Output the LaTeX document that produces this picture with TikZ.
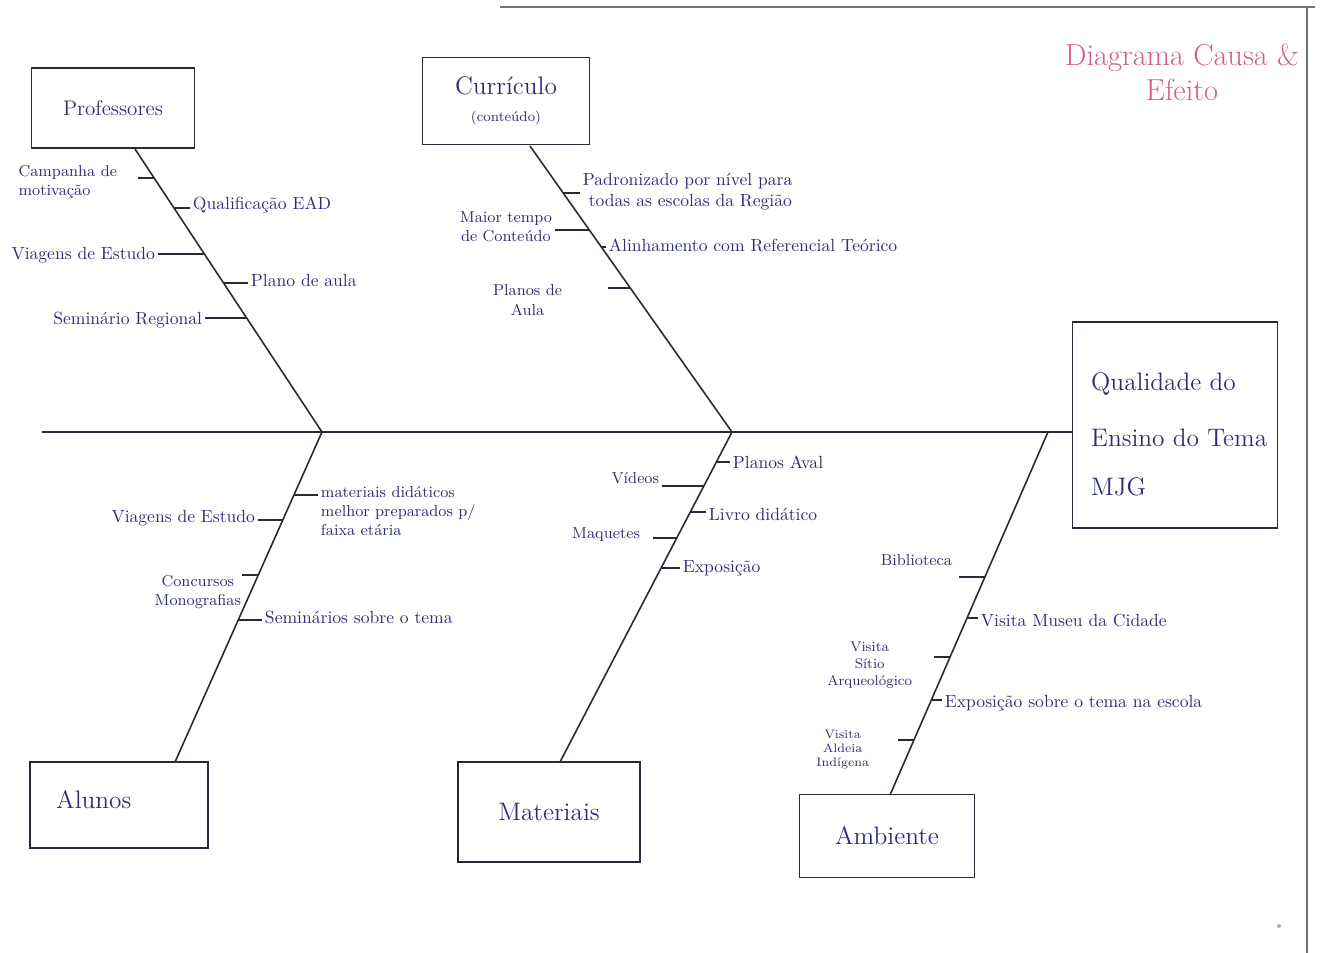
\documentclass[tikz,border=0pt]{standalone}
\usepackage{fontspec}
\usetikzlibrary{calc}
\definecolor{lineink}{rgb}{0.16,0.16,0.22}
\definecolor{hand}{rgb}{0.18,0.18,0.46}
\definecolor{redpen}{rgb}{0.82,0.38,0.50}
\definecolor{edge}{rgb}{0.45,0.45,0.45}
\begin{document}
\begin{tikzpicture}[x=0.02cm,y=-0.02cm,
  lbl/.style={text=hand,font=\normalsize,inner sep=1.5pt,align=left},
  lblsm/.style={lbl,font=\small},
  lbltiny/.style={lbl,font=\footnotesize,align=center},
  catbox/.style={draw=lineink,line width=1.1pt,text=hand,font=\Large,inner sep=0pt},
  bone/.style={draw=lineink,line width=0.9pt},
  tickln/.style={draw=lineink,line width=0.9pt},
  spine/.style={draw=lineink,line width=1.2pt}]

% canvas
\useasboundingbox (0,0) rectangle (1320,953);
\fill[white] (0,0) rectangle (1320,953);

% sheet edges
\coordinate (et1) at (500,7);
\coordinate (et2) at (1315,7);
\coordinate (er1) at (1307,8);
\coordinate (er2) at (1307,953);
\draw[edge,line width=1.2pt] (et1) -- (et2);
\draw[edge,line width=1.4pt] (er1) -- (er2);
\fill[edge!60] (1279,926) circle (2);

% title
\node[text=redpen,font=\LARGE,align=center] (title) at (1182,72) {Diagrama Causa \&\\[-2pt]Efeito};

% effect
\node[catbox,minimum width={205*0.02cm},minimum height={206*0.02cm}] (effect) at (1175,425) {};
\node[text=hand,font=\Large,align=left,anchor=north west] (effecttxt) at (1085,366)
  {Qualidade do\\[14pt]Ensino do Tema\\[10pt]MJG};

% category boxes
\node[catbox,font=\large,minimum width={163*0.02cm},minimum height={80*0.02cm}] (prof) at (113,108) {Professores};
\node[catbox,minimum width={167*0.02cm},minimum height={87*0.02cm},align=center] (curr) at (506,101)
  {Currículo\\[-3pt]{\footnotesize(conteúdo)}};
\node[catbox,minimum width={178*0.02cm},minimum height={86*0.02cm}] (alunos) at (119,805) {};
\node[text=hand,font=\Large,anchor=west] (alunostxt) at (50,800) {Alunos};
\node[catbox,minimum width={182*0.02cm},minimum height={100*0.02cm}] (mat) at (549,812) {Materiais};
\node[catbox,minimum width={175*0.02cm},minimum height={83*0.02cm}] (amb) at (887,836) {Ambiente};

% spine
\coordinate (tail) at (42,432);
\draw[spine] (tail) -- (tail -| effect.west);

% main bones
\coordinate (pt) at (135,149);  \coordinate (pj) at (322,432);
\coordinate (ct) at (530,146);  \coordinate (cj) at (732,432);
\coordinate (at) at (175,762);  \coordinate (aj) at (322,432);
\coordinate (mt) at (560,762);  \coordinate (mj) at (732,432);
\coordinate (bt) at (890,795);  \coordinate (bj) at (1048,432);
\draw[bone] (pt) -- (pj);
\draw[bone] (ct) -- (cj);
\draw[bone] (at) -- (aj);
\draw[bone] (mt) -- (mj);
\draw[bone] (bt) -- (bj);

% ---- Professores
\node[lblsm,anchor=east] (p1) at (120,182) {Campanha de\\motivação};
\node[lbl,anchor=west] (p2) at (190,205) {Qualificação EAD};
\node[lbl,anchor=east] (p3) at (158,255) {Viagens de Estudo};
\node[lbl,anchor=west] (p4) at (248,280) {Plano de aula};
\node[lbl,anchor=east] (p5) at (205,320) {Seminário Regional};
\coordinate (pb1) at (intersection of pt--pj and 0,178--10,178);
\coordinate (pb2) at (intersection of pt--pj and 0,208--10,208);
\coordinate (pb3) at (intersection of pt--pj and 0,254--10,254);
\coordinate (pb4) at (intersection of pt--pj and 0,283--10,283);
\coordinate (pb5) at (intersection of pt--pj and 0,318--10,318);
\draw[tickln] (pb1) -- ++(-16,0);
\draw[tickln] (pb2) -- (pb2 -| p2.west);
\draw[tickln] (pb3) -- (pb3 -| p3.east);
\draw[tickln] (pb4) -- (pb4 -| p4.west);
\draw[tickln] (pb5) -- (pb5 -| p5.east);

% ---- Currículo
\node[lbl,anchor=west] (c1) at (580,192) {Padronizado por nível para\\\ todas as escolas da Região};
\node[lblsm,anchor=east,align=center] (c2) at (555,227) {Maior tempo\\de Conteúdo};
\node[lbl,anchor=west] (c3) at (606,245) {Alinhamento com Referencial Teórico};
\node[lblsm,anchor=east,align=center] (c4) at (565,300) {Planos de\\Aula};
\coordinate (cb1) at (intersection of ct--cj and 0,193--10,193);
\coordinate (cb2) at (intersection of ct--cj and 0,230--10,230);
\coordinate (cb3) at (intersection of ct--cj and 0,247--10,247);
\coordinate (cb4) at (intersection of ct--cj and 0,288--10,288);
\draw[tickln] (cb1) -- (cb1 -| c1.west);
\draw[tickln] (cb2) -- (cb2 -| c2.east);
\draw[tickln] (cb3) -- (cb3 -| c3.west);
\draw[tickln] (cb4) -- ++(-22,0);

% ---- Alunos
\node[lblsm,anchor=north west] (a1) at (318,483) {materiais didáticos\\melhor preparados p/\\faixa etária};
\node[lbl,anchor=east] (a2) at (258,518) {Viagens de Estudo};
\node[lblsm,anchor=east,align=center] (a3) at (244,592) {Concursos\\Monografias};
\node[lbl,anchor=west] (a4) at (262,617) {Seminários sobre o tema};
\coordinate (ab1) at (intersection of at--aj and 0,495--10,495);
\coordinate (ab2) at (intersection of at--aj and 0,520--10,520);
\coordinate (ab3) at (intersection of at--aj and 0,575--10,575);
\coordinate (ab4) at (intersection of at--aj and 0,620--10,620);
\draw[tickln] (ab1) -- (ab1 -| a1.west);
\draw[tickln] (ab2) -- (ab2 -| a2.east);
\draw[tickln] (ab3) -- ++(-16,0);
\draw[tickln] (ab4) -- (ab4 -| a4.west);

% ---- Materiais
\node[lbl,anchor=west] (m1) at (730,462) {Planos Aval};
\node[lblsm,anchor=east] (m2) at (662,478) {Vídeos};
\node[lbl,anchor=west] (m3) at (706,514) {Livro didático};
\node[lblsm,anchor=east] (m4) at (643,535) {Maquetes};
\node[lbl,anchor=west] (m5) at (680,568) {Exposição};
\coordinate (mb1) at (intersection of mt--mj and 0,462--10,462);
\coordinate (mb2) at (intersection of mt--mj and 0,486--10,486);
\coordinate (mb3) at (intersection of mt--mj and 0,512--10,512);
\coordinate (mb4) at (intersection of mt--mj and 0,538--10,538);
\coordinate (mb5) at (intersection of mt--mj and 0,568--10,568);
\draw[tickln] (mb1) -- (mb1 -| m1.west);
\draw[tickln] (mb2) -- (mb2 -| m2.east);
\draw[tickln] (mb3) -- (mb3 -| m3.west);
\draw[tickln] (mb4) -- ++(-24,0);
\draw[tickln] (mb5) -- (mb5 -| m5.west);

% ---- Ambiente
\node[lblsm,anchor=east] (b1) at (955,560) {Biblioteca};
\node[lbl,anchor=west] (b2) at (978,620) {Visita Museu da Cidade};
\node[lbltiny,anchor=east] (b3) at (915,665) {Visita\\Sítio\\Arqueológico};
\node[lbl,anchor=west] (b4) at (942,703) {Exposição sobre o tema na escola};
\node[lbl,font=\scriptsize,align=center,anchor=east] (b5) at (872,750) {Visita\\Aldeia\\Indígena};
\coordinate (bb1) at (intersection of bt--bj and 0,577--10,577);
\coordinate (bb2) at (intersection of bt--bj and 0,618--10,618);
\coordinate (bb3) at (intersection of bt--bj and 0,657--10,657);
\coordinate (bb4) at (intersection of bt--bj and 0,700--10,700);
\coordinate (bb5) at (intersection of bt--bj and 0,740--10,740);
\draw[tickln] (bb1) -- ++(-26,0);
\draw[tickln] (bb2) -- (bb2 -| b2.west);
\draw[tickln] (bb3) -- ++(-16,0);
\draw[tickln] (bb4) -- (bb4 -| b4.west);
\draw[tickln] (bb5) -- ++(-16,0);
\end{tikzpicture}
\end{document}
